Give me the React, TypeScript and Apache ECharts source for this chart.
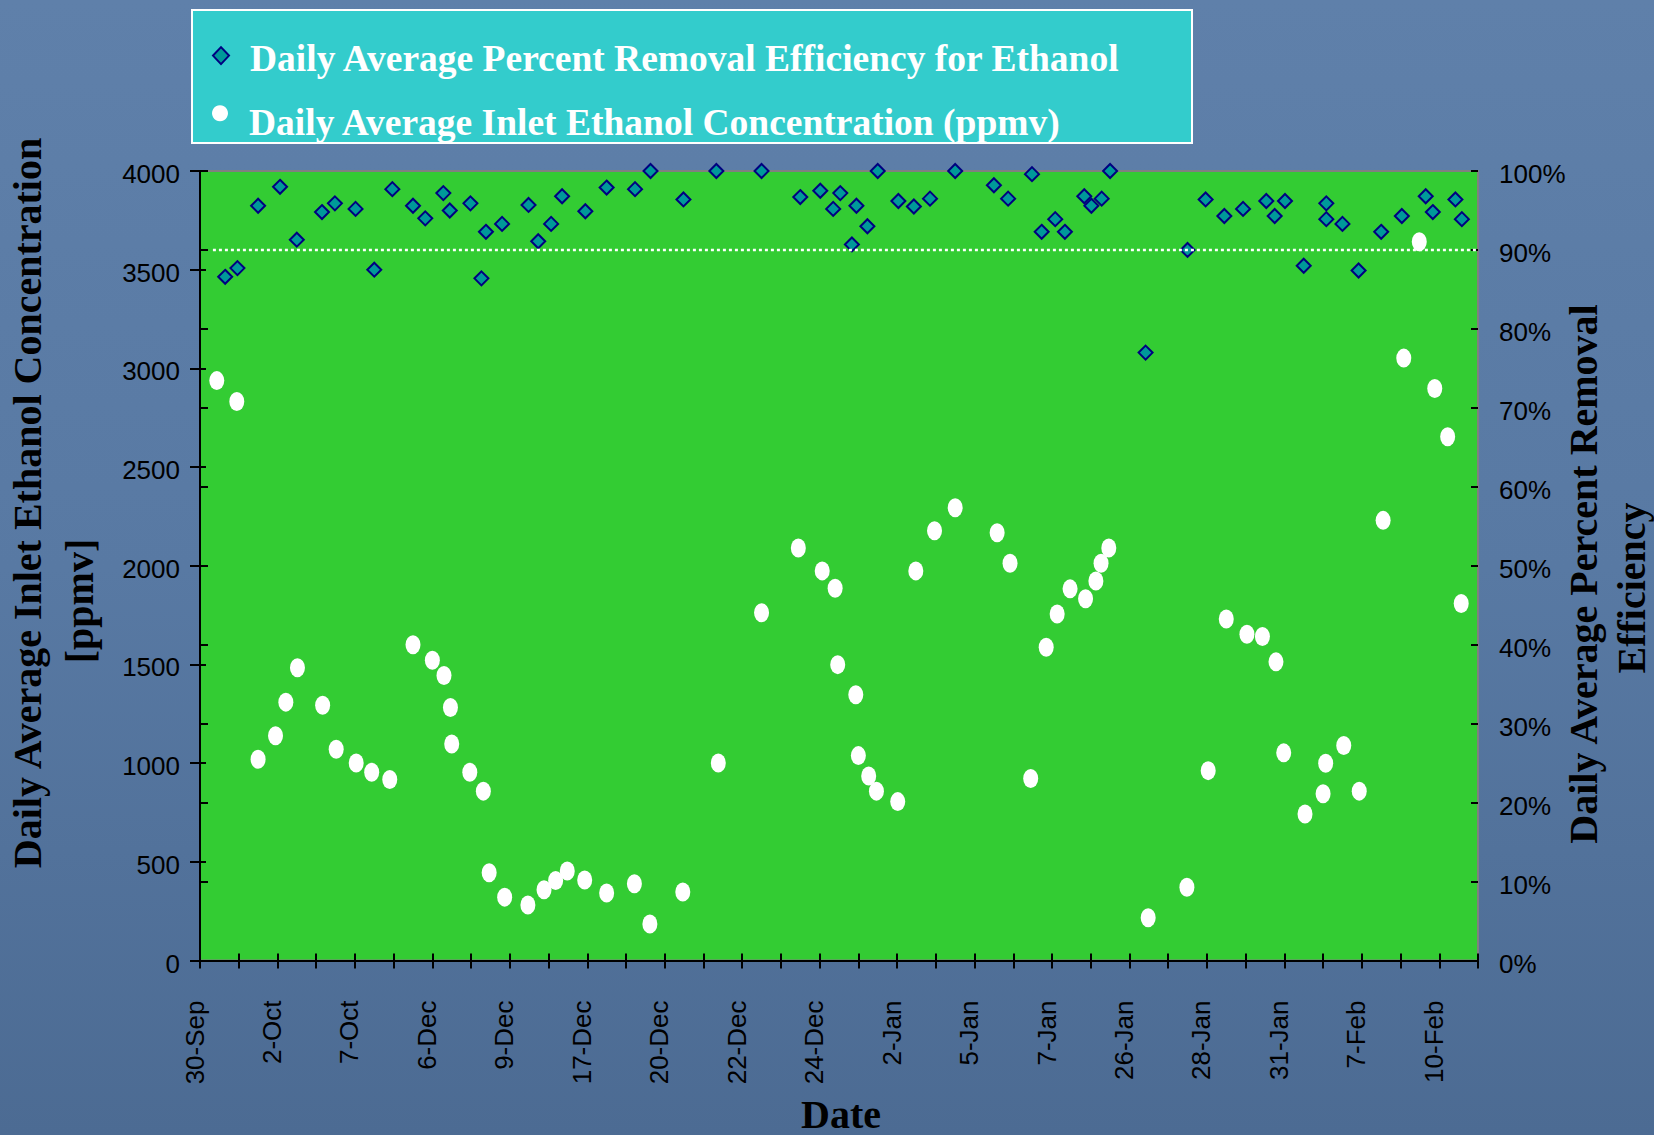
import React, { useEffect, useRef } from "react";
import * as echarts from "echarts";

// ---- Data (x in sample slots along the date axis, 198 slots, tick every 6, label every 12) ----
const dateLabels = [
  "30-Sep", "2-Oct", "7-Oct", "6-Dec", "9-Dec", "17-Dec", "20-Dec", "22-Dec", "24-Dec",
  "2-Jan", "5-Jan", "7-Jan", "26-Jan", "28-Jan", "31-Jan", "7-Feb", "10-Feb",
];
const slotMax = 198;
const tickEvery = 6;
const labelEvery = 12;

const effSlot = [
  3.9, 5.8, 9.0, 12.4, 15.0, 18.9, 20.9, 24.1, 27.0, 29.8, 33.0, 34.9, 37.7, 38.7, 41.9, 43.6, 44.3, 46.8,
  50.9, 52.4, 54.4, 56.1, 59.7, 63.0, 67.4, 69.8, 74.9, 80.0, 87.0, 93.0, 96.1, 98.1, 99.2, 101.0, 101.7,
  103.4, 105.0, 108.2, 110.6, 113.1, 117.0, 123.0, 125.2, 128.9, 130.4, 132.5, 134.0, 137.0, 138.1, 139.7,
  141.0, 146.5, 153.0, 155.8, 158.7, 161.6, 165.2, 166.5, 168.1, 171.0, 174.5, 174.5, 177.0, 179.5, 183.0,
  186.2, 189.9, 191.0, 194.5, 195.5,
];
const effPct = [
  86.6, 87.7, 95.6, 98.0, 91.3, 94.8, 95.9, 95.2, 87.5, 97.7, 95.6, 94.0, 97.2, 95.0, 95.9, 86.4, 92.3, 93.3,
  95.7, 91.1, 93.3, 96.8, 94.9, 97.9, 97.7, 100, 96.4, 100, 100, 96.7, 97.5, 95.2, 97.2, 90.7, 95.6,
  93.0, 100, 96.2, 95.5, 96.5, 100, 98.2, 96.5, 99.6, 92.3, 93.9, 92.3, 96.8, 95.6, 96.5,
  100, 77.0, 90.0, 96.4, 94.3, 95.2, 96.2, 94.3, 96.2, 88.0, 95.9, 93.9, 93.3, 87.4, 92.3,
  94.3, 96.8, 94.8, 96.4, 93.9,
];

const concSlot = [
  2.6, 5.7, 9.0, 11.7, 13.3, 15.1, 19.0, 21.1, 24.2, 26.6, 29.4, 33.0, 36.0, 37.8, 38.8, 39.0, 41.8, 43.9,
  44.8, 47.2, 50.8, 53.3, 55.1, 56.9, 59.6, 63.0, 67.3, 69.7, 74.8, 80.3, 87.0, 92.7, 96.4, 98.4, 98.8,
  101.6, 102.0, 103.6, 104.8, 108.1, 110.9, 113.8, 117.0, 123.5, 125.5, 128.7, 131.1, 132.8, 134.8, 137.2,
  138.8, 139.6, 140.8, 146.9, 152.9, 156.2, 159.0, 162.2, 164.6, 166.7, 167.9, 171.2, 174.0, 174.4, 177.2,
  179.6, 183.3, 186.5, 188.9, 191.3, 193.3, 195.4,
];
const concPpmv = [
  2938, 2832, 1020, 1139, 1309, 1483, 1293, 1070, 1001, 954, 917, 1600, 1521, 1444, 1282, 1097, 954, 858,
  445, 321, 281, 358, 405, 453, 408, 342, 389, 185, 347, 1001, 1762, 2090, 1974, 1886, 1499,
  1346, 1038, 935, 858, 805, 1974, 2177, 2294, 2167, 2013, 922, 1587, 1756, 1883, 1833,
  1923, 2013, 2090, 217, 371, 962, 1730, 1653, 1642, 1513, 1052, 742, 845, 999, 1089,
  858, 2230, 3052, 3642, 2898, 2654, 1809,
];

const targetLineSlots = [2, 198];
const targetPct = 90;

const effName = "Daily Average Percent Removal Efficiency for Ethanol";
const concName = "Daily Average Inlet Ethanol Concentration (ppmv)";

const SERIF = '"Liberation Serif", "Times New Roman", serif';
const SANS = '"Liberation Sans", Arial, sans-serif';
const ELLIPSE = "path://M50,0A50,50 0 1,1 50,100A50,50 0 1,1 50,0Z";

export default function App() {
  const ref = useRef<HTMLDivElement>(null);

  useEffect(() => {
    const chart = echarts.init(ref.current!, null, { renderer: "svg" });
    const effData = effSlot.map((x, i) => [x, effPct[i]]);
    const concData = concSlot.map((x, i) => [x, concPpmv[i]]);
    const lineData = targetLineSlots.map((x) => [x, targetPct]);

    const xScale = { type: "value", min: 0, max: slotMax, interval: tickEvery, splitLine: { show: false } };
    const tickStyle = { color: "#000", width: 2 };
    const yLabel = { fontSize: 26, color: "#000", fontFamily: SANS, verticalAlign: "top", lineHeight: 6 };
    const legendText = { color: "#fff", fontFamily: SERIF, fontWeight: "bold", fontSize: 37.5 };
    const legendBase = {
      orient: "horizontal", left: 212, itemWidth: 16, itemHeight: 17,
      padding: 0, selectedMode: false, z: 10,
    };
    const titleStyle = {
      fill: "#000", fontFamily: SERIF, fontWeight: "bold", fontSize: 40,
      align: "center", verticalAlign: "middle",
    };

    chart.setOption({
      animation: false,
      backgroundColor: "transparent",
      grid: {
        left: 200, right: 176, top: 171, bottom: 174.5,
        show: true, backgroundColor: "#33CC33", borderColor: "#808080", borderWidth: 2,
        outerBoundsMode: "none", containLabel: false,
      },
      legend: [
        {
          ...legendBase, top: 39.6,
          formatter: (n: string) => `{a|${n}}`,
          textStyle: { ...legendText, rich: { a: { ...legendText, padding: [6, 0, 0, 16] } } },
          data: [{ name: effName, icon: "diamond" }],
        },
        {
          ...legendBase, top: 103.75,
          formatter: (n: string) => `{b|${n}}`,
          textStyle: { ...legendText, rich: { b: { ...legendText, padding: [19, 0, 0, 16] } } },
          data: [{ name: concName, icon: "circle" }],
        },
      ],
      xAxis: [
        {
          ...xScale, position: "bottom",
          axisLine: { show: true, lineStyle: { color: "#000", width: 2 } },
          axisTick: { show: true, inside: false, length: 8, lineStyle: tickStyle },
          axisLabel: {
            rotate: 90, margin: 40, fontSize: 26, color: "#000", fontFamily: SANS,
            verticalAlign: "bottom", lineHeight: 11,
            formatter: (v: number) => (v % labelEvery === 0 ? dateLabels[v / labelEvery] ?? "" : ""),
          },
        },
        {
          ...xScale, position: "bottom",
          axisLine: { show: false },
          axisTick: { show: true, inside: true, length: 7, lineStyle: tickStyle },
          axisLabel: { show: false },
        },
      ],
      yAxis: [
        {
          type: "value", position: "left", min: 0, max: 4000, interval: 500, splitLine: { show: false },
          axisLine: { show: true, lineStyle: { color: "#000", width: 2 } },
          axisTick: { show: true, length: 10, lineStyle: tickStyle },
          axisLabel: { ...yLabel, margin: 20, formatter: (v: number) => String(v) },
        },
        {
          type: "value", position: "right", min: 0, max: 100, interval: 10, splitLine: { show: false },
          axisLine: { show: true, lineStyle: { color: "#000", width: 2 } },
          axisTick: { show: true, length: 8, lineStyle: tickStyle },
          axisLabel: { ...yLabel, margin: 21, formatter: (v: number) => v + "%" },
        },
        {
          type: "value", position: "left", min: 0, max: 4000, interval: 500, splitLine: { show: false },
          axisLine: { show: false }, axisTick: { show: true, inside: true, length: 6, lineStyle: tickStyle },
          axisLabel: { show: false },
        },
        {
          type: "value", position: "right", min: 0, max: 100, interval: 10, splitLine: { show: false },
          axisLine: { show: false }, axisTick: { show: true, inside: true, length: 7, lineStyle: tickStyle },
          axisLabel: { show: false },
        },
      ],
      graphic: [
        {
          type: "rect", z: 0, shape: { x: 192, y: 10, width: 1000, height: 133 },
          style: { fill: "#33CCCC", stroke: "#ffffff", lineWidth: 2 },
        },
        {
          type: "text", x: 27, y: 503, rotation: Math.PI / 2,
          style: { ...titleStyle, text: "Daily Average Inlet Ethanol Concentration" },
        },
        {
          type: "text", x: 79, y: 601, rotation: Math.PI / 2,
          style: { ...titleStyle, text: "[ppmv]" },
        },
        {
          type: "text", x: 1583, y: 574, rotation: Math.PI / 2,
          style: { ...titleStyle, text: "Daily Average Percent Removal" },
        },
        {
          type: "text", x: 1631, y: 588, rotation: Math.PI / 2,
          style: { ...titleStyle, text: "Efficiency" },
        },
        {
          type: "text", x: 841, y: 1114,
          style: { ...titleStyle, text: "Date" },
        },
      ],
      series: [
        {
          name: effName, type: "scatter", xAxisIndex: 0, yAxisIndex: 1, z: 2,
          symbol: "diamond", symbolSize: 14,
          itemStyle: { color: "#009999", borderColor: "#000080", borderWidth: 2, opacity: 1 },
          data: effData,
        },
        {
          name: "target", type: "line", xAxisIndex: 0, yAxisIndex: 1, z: 3,
          symbol: "none", silent: true,
          lineStyle: { color: "#ffffff", width: 2.5, type: [3, 3] },
          data: lineData,
        },
        {
          name: concName, type: "scatter", xAxisIndex: 0, yAxisIndex: 0, z: 4,
          symbol: ELLIPSE, symbolSize: [15, 19], symbolKeepAspect: false,
          itemStyle: { color: "#ffffff", opacity: 1 },
          data: concData,
        },
      ],
    });
    return () => chart.dispose();
  }, []);

  return (
    <div
      ref={ref}
      style={{
        position: "fixed", left: 0, top: 0, width: 1654, height: 1135,
        background: "linear-gradient(180deg, #5f80aa 0%, #5879a3 50%, #4c6b93 100%)",
      }}
    />
  );
}
